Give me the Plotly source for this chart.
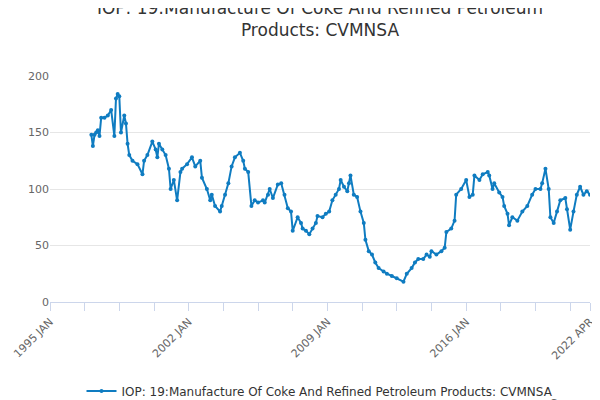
import plotly.graph_objects as go
import pandas as pd

months = [25,26,27,28,29,30,31,33,35,37,39,40,41,42,43,45,46,47,48,50,53,56,57,59,62,64,65,66,68,70,72,73,75,77,79,80,83,86,88,91,92,95,97,98,100,103,104,106,108,110,112,115,117,118,120,122,124,126,129,130,132,133,135,138,140,142,144,146,147,150,152,153,155,157,159,161,162,165,167,169,171,173,175,176,178,180,181,182,184,186,188,190,191,193,195,197,199,202,204,207,210,214,216,219,221,223,226,228,230,231,234,237,239,240,243,245,246,249,252,254,256,257,260,262,265,266,268,269,272,274,275,277,278,280,283,286,289,292,294,297,298,300,302,303,305,307,309,312,313,315,317,319,321,323,325,327]
values = [148,138,148,150,152,147,163,163,165,170,147,180,184,182,150,165,158,140,130,125,122,113,125,130,142,135,128,140,135,130,118,100,108,90,115,118,122,128,120,125,110,100,90,95,85,80,85,95,105,120,128,132,125,118,115,85,90,88,90,88,95,100,92,104,105,95,83,80,63,75,70,65,63,60,65,70,76,75,78,80,90,95,100,108,102,98,105,112,95,93,80,70,55,45,42,35,30,27,25,23,21,18,25,30,35,38,38,42,40,45,42,45,48,62,65,72,95,100,108,93,95,112,108,113,115,112,100,105,97,93,85,78,68,75,72,80,85,95,100,100,105,118,100,75,70,80,90,92,82,64,80,95,102,95,98,95]
series_name = "IOP: 19:Manufacture Of Coke And Refined Petroleum Products: CVMNSA"

base = pd.Timestamp("1995-01-01")
dates = [base + pd.DateOffset(months=m) for m in months]
tick_months = [0,21,42,63,84,105,126,147,168,189,210,231,252,273,294,315,327]
tick_dates = [base + pd.DateOffset(months=m) for m in tick_months]
label_map = {0:"1995 JAN",84:"2002 JAN",168:"2009 JAN",252:"2016 JAN",327:"2022 APR"}
tick_text = [label_map.get(m, "") for m in tick_months]

fig = go.Figure(go.Scatter(x=dates, y=values, mode="lines+markers", name=series_name,
    line=dict(color="#0f7cc1", width=2), marker=dict(size=4, color="#0f7cc1")))
fig.update_layout(
    width=600, height=400, plot_bgcolor="white", paper_bgcolor="white",
    margin=dict(l=42, r=18, t=68, b=106, autoexpand=False),
    font=dict(family="DejaVu Sans", color="#666", size=11),
    title=dict(text="IOP: 19:Manufacture Of Coke And Refined Petroleum<br>Products: CVMNSA",
               x=0.5, xanchor="center", xref="paper", y=0.985, yanchor="top",
               font=dict(size=17, color="#333")),
    showlegend=True,
    legend=dict(orientation="h", x=0.5, xanchor="center", y=-0.33, yanchor="top",
                font=dict(size=12, color="#333")),
    xaxis=dict(range=[base, base + pd.DateOffset(months=327)], tickvals=tick_dates, ticktext=tick_text,
               tickangle=-45, showgrid=False, ticks="outside", ticklen=8, tickcolor="#ccd6eb",
               showline=True, linecolor="#ccd6eb", automargin=False,
               tickfont=dict(size=11, color="#666")),
    yaxis=dict(range=[0, 200], dtick=50, gridcolor="#e6e6e6", zeroline=False, automargin=False,
               tickfont=dict(size=11, color="#666")),
    annotations=[dict(text="Source:", xref="paper", yref="paper", x=1.013, y=-0.41,
                      xanchor="right", yanchor="top", showarrow=False,
                      font=dict(size=12, color="#666"))],
)
fig.write_html("out.html")
